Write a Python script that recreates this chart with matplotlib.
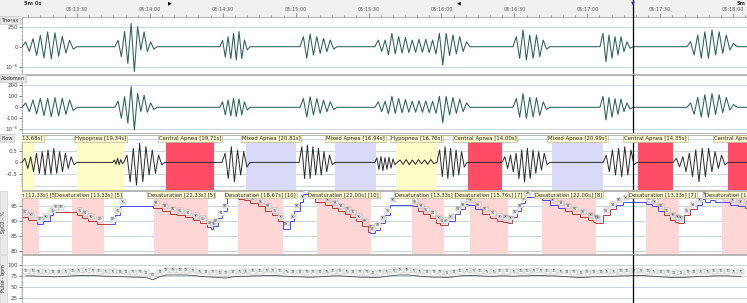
import numpy as np
import matplotlib
matplotlib.use("Agg")
import matplotlib.pyplot as plt
from matplotlib.collections import LineCollection
from matplotlib.patches import Rectangle
import matplotlib.transforms as mtransforms

plt.rcParams['font.family'] = ['DejaVu Sans']

# ---------------- data ----------------
XL = (7.4, 305.7)                      # seconds after 05:13:00
time_ticks = [30, 60, 90, 120, 150, 180, 210, 240, 270, 300]
time_labels = ["05:13:30", "05:14:00", "05:14:30", "05:15:00", "05:15:30",
               "05:16:00", "05:16:30", "05:17:00", "05:17:30", "05:18:00"]
cursor_t = 258.8
marker_fwd_t = 68.3
marker_back_t = 187.2

# breathing bursts: (start, end, alternating peak / trough values)
thorax_bursts = [
    (7.4, 30.0, [60, -60, 100, -110, 140, -140, 185, -150, 175, -120, 130, -80, 80, -30]),
    (45.6, 63.0, [80, -125, 190, -210, 290, -310, 250, -40, 185, -60, 60, -30]),
    (88.8, 101.2, [80, -130, 125, -150, 165, -165, 190, -150, 85, -40]),
    (121.8, 137.0, [125, -146, 158, -104, 125, -83, 104, -62, 83, -30]),
    (152.6, 191.7, [83, -60, 83, -100, 167, -90, 125, -80, 117, -75, 83, -70, 92, -70, 92,
                    -75, 83, -90, 167, -230, 167, -110, 146, -90, 125, -60, 62]),
    (209.4, 224.6, [125, -146, 208, -167, 146, -146, 146, -125, 83, -30]),
    (245.2, 258.8, [167, -187, 146, -146, 125, -104, 125, -62, 62, -20]),
    (281.0, 301.6, [62, -104, 146, -146, 187, -146, 208, -104, 187, -83, 146, -42, 42]),
]
abdomen_bursts = [
    (7.4, 30.0, [40, -40, 67, -60, 82, -75, 82, -85, 88, -80, 82, -65, 67, -30]),
    (45.6, 63.0, [55, -100, 97, -145, 188, -206, 127, -40, 110, -45, 40, -20]),
    (88.8, 101.2, [50, -70, 67, -80, 82, -85, 76, -70, 50, -25]),
    (121.8, 137.0, [80, -90, 95, -70, 80, -55, 65, -40, 50, -20]),
    (152.6, 191.7, [50, -40, 55, -60, 100, -55, 80, -50, 70, -45, 55, -45, 60, -45, 58,
                    -48, 55, -55, 100, -140, 100, -70, 90, -55, 75, -40, 40]),
    (209.4, 224.6, [80, -90, 125, -100, 90, -90, 88, -75, 50, -20]),
    (245.2, 258.8, [100, -115, 90, -90, 78, -65, 75, -40, 40, -15]),
    (281.0, 301.6, [40, -65, 90, -90, 115, -90, 125, -65, 115, -50, 90, -25, 25]),
]
flow_bursts = [
    (7.4, 30.0, [0.17, -0.26, 0.24, -0.4, 0.39, -0.47, 0.46, -0.54, 0.53, -0.5, 0.6, -0.47,
                 0.46, -0.4, 0.39, -0.26, 0.24, -0.1]),
    (44.8, 49.3, [0.1, -0.08, 0.18, -0.1, 0.12, -0.05]),
    (49.3, 66.2, [0.31, -0.83, 0.6, -0.97, 0.81, -0.83, 0.67, -0.54, 0.53, -0.47, 0.31, -0.1]),
    (89.7, 101.2, [0.39, -0.69, 0.67, -0.83, 0.53, -0.54, 0.46, -0.2]),
    (121.4, 136.2, [0.67, -0.69, 0.74, -0.69, 0.67, -0.54, 0.6, -0.54, 0.46, -0.4, 0.31, -0.1]),
    (152.6, 161.7, [0.2, -0.3, 0.25, -0.35, 0.2, -0.3, 0.22, -0.25, 0.15, -0.1]),
    (161.7, 178.1, [0.1, -0.08, 0.12, -0.1, 0.1, -0.08, 0.12, -0.06, 0.1, -0.08, 0.12, -0.05]),
    (178.1, 190.5, [0.53, -0.61, 0.67, -0.69, 0.6, -0.61, 0.53, -0.54, 0.46, -0.2]),
    (204.9, 224.6, [0.24, -0.26, 0.31, -0.4, 0.39, -0.69, 0.53, -0.83, 0.6, -0.69, 0.53, -0.47,
                    0.46, -0.33, 0.39, -0.1]),
    (246.5, 260.5, [0.31, -0.4, 0.53, -0.54, 0.6, -0.61, 0.67, -0.54, 0.53, -0.1]),
    (275.3, 297.9, [0.17, -0.19, 0.24, -0.4, 0.39, -0.61, 0.53, -0.83, 0.6, -0.61, 0.6, -0.4,
                    0.46, -0.26, 0.31, -0.1]),
]

# respiratory events
event_start = [-1.4, 30.0, 66.6, 99.5, 136.2, 161.3, 190.9, 225.5, 260.9, 297.9]
event_dur = [13.68, 19.34, 19.71, 20.81, 16.94, 16.76, 14.00, 20.99, 14.35, 14.20]
event_type = ["Hypopnea", "Hypopnea", "Central Apnea", "Mixed Apnea", "Mixed Apnea",
              "Hypopnea", "Central Apnea", "Mixed Apnea", "Central Apnea", "Central Apnea"]

# desaturation events
desat_start = [2.0, 27.9, 61.7, 96.3, 128.8, 167.9, 191.7, 221.4, 264.2, 295.4]
desat_dur = [12.33, 13.33, 22.33, 18.67, 22.00, 13.33, 15.76, 22.00, 13.33, 14.00]
desat_n = [5, 5, 5, 10, 10, 6, 7, 8, 7, 5]

# SpO2 step samples (time, value, phase d=desaturating r=recovering)
spo2_t = [7.4, 9.8, 13.5, 16.0, 18.9, 20.1, 22.2, 30.0, 32.1, 34.5, 38.2, 43.6, 45.6, 47.7,
          61.3, 65.0, 68.3, 71.2, 74.4, 77.7, 80.6, 83.5, 85.0, 86.0, 88.0, 89.7, 91.7,
          96.3, 98.7, 101.2, 104.5, 107.4, 110.2, 112.7, 114.8, 117.7, 119.3, 121.8, 123.0,
          127.9, 132.1, 134.9, 137.4, 140.3, 142.3, 144.8, 147.3, 149.8, 150.6, 152.6, 154.7,
          156.7, 158.8, 167.9, 170.3, 172.4, 175.3, 177.7, 179.4, 180.6, 182.7, 185.6, 187.6,
          189.7, 190.9, 193.8, 196.7, 199.9, 202.8, 205.3, 207.4, 209.0, 211.1, 212.7, 214.4,
          221.4, 224.7, 227.9, 230.8, 233.7, 237.0, 240.3, 242.3, 243.2, 246.5, 249.3, 251.8,
          254.7, 264.2, 266.6, 269.1, 271.6, 274.0, 276.1, 277.3, 279.8, 282.3, 285.1, 287.2,
          288.4, 290.5, 292.6, 295.4, 298.8, 302.0, 304.9]
spo2_v = [91.5, 90.5, 89, 90, 92, 93, 93, 92, 91, 90, 89, 89, 92, 95,
          94.5, 93.5, 92.5, 92, 91.3, 90.3, 89.3, 88, 87.5, 88.5, 91, 93.5, 98.5,
          97.5, 97, 96, 95, 93.5, 92, 90, 87.5, 90, 93.5, 96.5, 99,
          96.5, 95.5, 94.5, 93.5, 92.5, 91.5, 90, 88.5, 86.5, 86, 87, 89.5,
          92, 95.5, 95, 93.5, 92.3, 91, 89.5, 88.6, 88.6, 90, 92.5, 94,
          95.8, 95.5, 94, 92.5, 91, 90, 89.7, 89.5, 91.5, 93.5, 96, 98,
          96.9, 95.5, 94.5, 93.5, 92.5, 91.5, 90.5, 89.7, 89.5, 92, 94, 95.5,
          96.3, 95.8, 95, 93.5, 92, 90.5, 89.7, 89.5, 92, 94, 95.5, 97.4,
          96.5, 97, 96.5, 96.3, 95.5, 95, 94.5]
spo2_phase = list("ddrrrrddddd" "rrr" "ddddddddrrrrr" "ddddddd" "rrrrr"
                  "ddddddddd" "rrrrrr" "dddddd" "rrrrrr" "dddddd" "rrrrrr"
                  "dddddddd" "rrrrr" "dddddd" "rrrrrrrr" "dddd")

# pulse (bpm), one reading every 2.75 s starting at 9 s
pulse_t0 = 9.0
pulse_dt = 2.75
pulse_v = [76, 76, 75, 75, 74, 74, 75, 76, 77, 77,
           77, 76, 75, 75, 74, 74, 73, 73, 72, 67,
           74, 78, 78, 78, 78, 77, 75, 74, 73, 72,
           71, 74, 75, 75, 76, 76, 77, 77, 76, 75,
           74, 74, 73, 73, 74, 75, 76, 76, 75, 74,
           73, 73, 72, 73, 75, 77, 78, 78, 77, 75,
           74, 73, 73, 72, 74, 76, 77, 77, 76, 75,
           75, 76, 76, 75, 76, 76, 77, 77, 76, 76,
           75, 74, 73, 72, 73, 74, 74, 75, 75, 76,
           76, 77, 77, 76, 75, 74, 73, 72, 72, 73,
           74, 75, 75, 76, 76, 76, 75, 75]

# ---------------- figure ----------------
W, H = 747, 303
fig = plt.figure(figsize=(W / 100, H / 100), dpi=100)
fig.patch.set_facecolor("white")


def rect(x0, y0, x1, y1):
    return [x0 / W, 1 - y1 / H, (x1 - x0) / W, (y1 - y0) / H]


GRID = "#c7d7df"
SPINE = "#a8a8a8"
LBL = 4.0

# header background on the left
fig.patches.append(Rectangle((0, 1 - 17 / H), 22 / W, 17 / H, transform=fig.transFigure,
                             facecolor="#f1f1f1", edgecolor="none", zorder=0))
# left label strips for SpO2 / Pulse
for y0, y1 in [(191, 254), (255, 303)]:
    fig.patches.append(Rectangle((0, 1 - y1 / H), 7 / W, (y1 - y0) / H, transform=fig.transFigure,
                                 facecolor="#e9e9e9", edgecolor="#c8c8c8", lw=0.4, zorder=0))

axh = fig.add_axes(rect(22, 0, 747, 17))
axh.set_facecolor("#f1f1f1")
axh.set_xlim(*XL)
axh.set_ylim(0, 1)
axh.set_yticks([])
for s in ["top", "left", "right"]:
    axh.spines[s].set_visible(False)
axh.spines["bottom"].set_color(SPINE)
axh.spines["bottom"].set_linewidth(0.6)
axh.set_xticks(time_ticks)
axh.set_xticks(np.arange(10, 306, 5), minor=True)
axh.tick_params(axis="x", which="major", direction="in", length=3, width=0.5,
                color="#666666", labelbottom=False)
axh.tick_params(axis="x", which="minor", direction="in", length=1.6, width=0.5,
                color="#666666")
trans_h = mtransforms.blended_transform_factory(axh.transData, axh.transAxes)
for t, lab in zip(time_ticks, time_labels):
    axh.text(t, 0.45, lab, transform=trans_h, ha="center", va="center",
             fontsize=3.6, color="#555555")
axh.text(marker_fwd_t, 0.84, "\u25B6", transform=trans_h, ha="center", va="center",
         fontsize=3.5, color="black")
axh.text(marker_back_t, 0.84, "\u25C0", transform=trans_h, ha="center", va="center",
         fontsize=3.5, color="black")
axh.text(cursor_t, 0.84, "\u25BC", transform=trans_h, ha="center", va="center",
         fontsize=3.5, color="#3030c0")
fig.text(24 / W, 1 - 3.5 / H, "5m 0s", fontsize=3.8, fontweight="bold", ha="left",
         va="center", color="#333333")
fig.text(737 / W, 1 - 3.5 / H, "5m", fontsize=3.8, fontweight="bold", ha="left",
         va="center", color="#333333")


def make_panel(y0, y1, ylim, ticks, ticklabels, grid, minor=None):
    ax = fig.add_axes(rect(22, y0, 747, y1))
    ax.set_xlim(*XL)
    ax.set_ylim(*ylim)
    ax.set_xticks([])
    ax.set_yticks(ticks)
    ax.set_yticklabels(ticklabels)
    if minor is not None:
        ax.set_yticks(minor, minor=True)
    ax.tick_params(axis="y", which="major", length=2, width=0.5, pad=1,
                   labelsize=LBL, colors="#444444")
    ax.tick_params(axis="y", which="minor", length=1, width=0.4, colors="#666666")
    for s in ax.spines.values():
        s.set_color(SPINE)
        s.set_linewidth(0.6)
    for g in grid:
        ax.axhline(g, color=GRID, lw=0.7, zorder=0.5)
    ax.axvline(cursor_t, color="black", lw=0.9, zorder=6)
    return ax


def build_trace(bursts):
    ts, vs = [XL[0]], [0.0]
    for t0, t1, vals in bursts:
        tt = np.linspace(t0, t1, len(vals) + 2)
        ts.extend(tt)
        vs.extend([0.0] + list(vals) + [0.0])
    ts.append(XL[1])
    vs.append(0.0)
    return np.array(ts), np.array(vs)


def name_box(y, text):
    fig.text(1 / W, 1 - y / H, text, fontsize=3.6, ha="left", va="center", color="#333333",
             bbox=dict(boxstyle="square,pad=0.25", fc="#e6e6e6", ec="#bdbdbd", lw=0.4))


# Thorax
ax1 = make_panel(17, 74, (-341, 371), [250, 0, -250], ["250", "0", "10\u207b\u2076"],
                 [250, -250], minor=np.arange(-300, 351, 50))
tt, vv = build_trace(thorax_bursts)
ax1.plot(tt, vv, color="#2c5f5f", lw=0.75, zorder=3)
name_box(20, "Thorax")

# Abdomen
ax2 = make_panel(75, 133, (-234, 294), [200, 100, 0, -100, -200],
                 ["200", "100", "0", "-100", "10\u207b\u2076"], [200, -200],
                 minor=np.arange(-200, 251, 25))
tt, vv = build_trace(abdomen_bursts)
ax2.plot(tt, vv, color="#2c5f5f", lw=0.75, zorder=3)
name_box(78, "Abdomen")

# Flow
ax3 = make_panel(135, 190, (-1.18, 1.17), [0.5, 0, -0.5], ["0.5", "0", "-0.5"],
                 [1.0, 0.5, -0.5, -1.0], minor=np.arange(-1.0, 1.01, 0.1))
ev_col = {"Hypopnea": "#fdfcc6", "Central Apnea": "#ff4d68", "Mixed Apnea": "#dadaf8"}
trans3 = mtransforms.blended_transform_factory(ax3.transData, ax3.transAxes)
for s, d, k in zip(event_start, event_dur, event_type):
    ax3.axvspan(s, s + d, color=ev_col[k], lw=0, zorder=1)
    lab = "%s [%s]" % (k, ("%.2fs" % d).replace(".", ","))
    ax3.text(s + d / 2, 0.985, lab, transform=trans3, ha="center", va="top", fontsize=3.9,
             color="#222222", zorder=7, clip_on=True,
             bbox=dict(boxstyle="square,pad=0.15", fc="#fffbd2", ec="#aaa888", lw=0.4))
tt, vv = build_trace(flow_bursts)
ax3.plot(tt, vv, color="#2a2a2a", lw=0.7, zorder=3)
name_box(138, "Flow")

# SpO2
ax4 = make_panel(191, 254, (79, 100), [95, 90, 85, 80], ["95", "90", "85", "80"],
                 [95, 90, 85, 80], minor=np.arange(80, 100, 1))
trans4 = mtransforms.blended_transform_factory(ax4.transData, ax4.transAxes)
for s, d, n in zip(desat_start, desat_dur, desat_n):
    ax4.axvspan(s, s + d, color="#ffd6d6", lw=0, zorder=1)
    lab = "Desaturation [%s] [%d]" % (("%.2fs" % d).replace(".", ","), n)
    ax4.text(s + d / 2, 0.985, lab, transform=trans4, ha="center", va="top", fontsize=3.8,
             color="#222222", zorder=7, clip_on=True,
             bbox=dict(boxstyle="square,pad=0.15", fc="#fffbd2", ec="#aaa888", lw=0.4))
colmap = {"d": "#b53a3a", "r": "#4848e6"}
segs, cols = [], []
for i in range(len(spo2_t)):
    t_next = spo2_t[i + 1] if i + 1 < len(spo2_t) else XL[1]
    segs.append([(spo2_t[i], spo2_v[i]), (t_next, spo2_v[i])])
    cols.append(colmap[spo2_phase[i]])
    if i + 1 < len(spo2_t):
        segs.append([(t_next, spo2_v[i]), (t_next, spo2_v[i + 1])])
        cols.append(colmap[spo2_phase[i + 1]])
ax4.add_collection(LineCollection(segs, colors=cols, linewidths=0.7, zorder=3))
for t, v in zip(spo2_t, spo2_v):
    ax4.text(t + 0.4, v + 1.5, "%d" % round(v), fontsize=2.6, ha="left", va="center",
             color="#333333", zorder=4, clip_on=True,
             bbox=dict(boxstyle="square,pad=0.12", fc="white", ec="#888888", lw=0.3))
fig.text(3.5 / W, 1 - 222 / H, "SpO2 - %", rotation=90, fontsize=3.4, ha="center",
         va="center", color="#333333")

# Pulse
ax5 = make_panel(255, 303, (13.6, 124), [100, 75, 50, 25], ["100", "75", "50", "25"],
                 [100, 75, 50, 25], minor=np.arange(25, 121, 5))
pt = pulse_t0 + pulse_dt * np.arange(len(pulse_v))
ax5.plot(pt, pulse_v, color="#474747", lw=0.6, zorder=3)
for t, v in zip(pt, pulse_v):
    ax5.text(t, v + 11, "%d" % v, fontsize=2.6, ha="center", va="center",
             color="#444444", zorder=4, clip_on=True,
             bbox=dict(boxstyle="square,pad=0.12", fc="white", ec="#999999", lw=0.3))
fig.text(3.5 / W, 1 - 278 / H, "Pulse - bpm", rotation=90, fontsize=3.4, ha="center",
         va="center", color="#333333")

# cursor through the header
axh.axvline(cursor_t, color="black", lw=0.9)

fig.savefig("out.png", dpi=100)
